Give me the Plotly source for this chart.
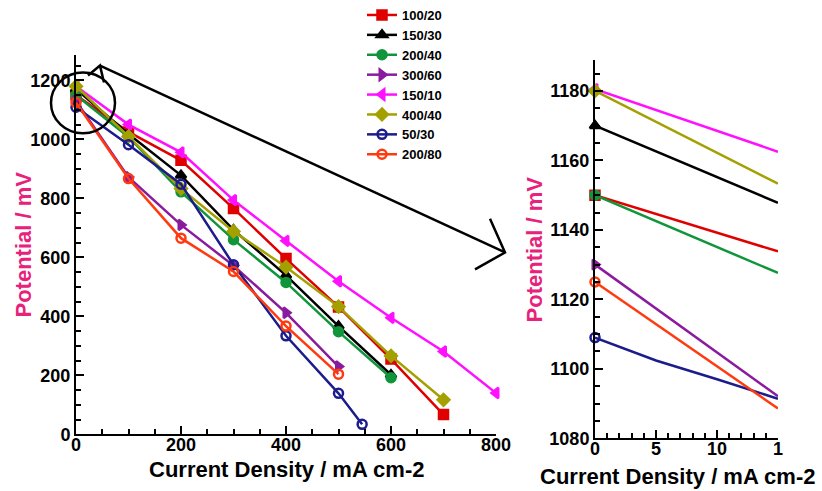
import plotly.graph_objects as go

W, H = 822, 491

# ---------------- data (main plot) ----------------
names = ["100/20", "150/30", "200/40", "300/60", "150/10", "400/40", "50/30", "200/80"]
colors = ["#e00000", "#000000", "#10953a", "#8a1a9e", "#ff10ff", "#a3a000", "#1c1c8c", "#ff3a10"]
symbols = ["square", "triangle-up", "circle", "triangle-right", "triangle-left", "diamond", "circle-open", "circle-open"]

x_100_20 = [0, 100, 200, 300, 400, 500, 600, 700]
y_100_20 = [1150, 1025, 929, 766, 596, 432, 255, 67]
x_150_30 = [0, 100, 200, 300, 400, 500, 600]
y_150_30 = [1170, 1018, 878, 693, 539, 367, 202]
x_200_40 = [0, 100, 200, 300, 400, 500, 600]
y_200_40 = [1150, 1008, 822, 660, 515, 348, 192]
x_300_60 = [0, 100, 200, 300, 400, 500]
y_300_60 = [1130, 872, 710, 572, 412, 230]
x_150_10 = [0, 100, 200, 300, 400, 500, 600, 700, 800]
y_150_10 = [1180, 1050, 956, 794, 656, 519, 395, 281, 140]
x_400_40 = [0, 100, 200, 300, 400, 500, 600, 700]
y_400_40 = [1180, 1010, 833, 688, 567, 433, 266, 117]
x_50_30 = [0, 100, 200, 300, 400, 500, 545]
y_50_30 = [1109, 982, 848, 575, 334, 139, 34]
x_200_80 = [0, 100, 200, 300, 400, 500]
y_200_80 = [1125, 867, 665, 552, 367, 204]

xs = [x_100_20, x_150_30, x_200_40, x_300_60, x_150_10, x_400_40, x_50_30, x_200_80]
ys = [y_100_20, y_150_30, y_200_40, y_300_60, y_150_10, y_400_40, y_50_30, y_200_80]

# ---------------- data (zoomed inset) ----------------
zx_100_20 = [0, 15]; zy_100_20 = [1150, 1133.8]
zx_150_30 = [0, 15]; zy_150_30 = [1170, 1147.8]
zx_200_40 = [0, 15]; zy_200_40 = [1150, 1127.6]
zx_300_60 = [0, 15]; zy_300_60 = [1130, 1092.1]
zx_150_10 = [0, 15]; zy_150_10 = [1180.5, 1162.5]
zx_400_40 = [0, 15]; zy_400_40 = [1180, 1153.3]
zx_50_30 = [0, 5, 10, 15]; zy_50_30 = [1109, 1102.4, 1097, 1091.4]
zx_200_80 = [0, 15]; zy_200_80 = [1125, 1088.6]

zxs = [zx_100_20, zx_150_30, zx_200_40, zx_300_60, zx_150_10, zx_400_40, zx_50_30, zx_200_80]
zys = [zy_100_20, zy_150_30, zy_200_40, zy_300_60, zy_150_10, zy_400_40, zy_50_30, zy_200_80]

inset_tickvals = [0, 5, 10, 15]
inset_ticktext = ["0", "5", "10", "1"]

x_title = "Current Density / mA cm-2"
y_title = "Potential / mV"

fig = go.Figure()
for n, c, s, x, y in zip(names, colors, symbols, xs, ys):
    fig.add_trace(go.Scatter(
        x=x, y=y, name=n, mode="lines+markers",
        line=dict(color=c, width=2.5),
        marker=dict(symbol=s, size=9, color=c, line=dict(color=c, width=2.5)),
        xaxis="x", yaxis="y", cliponaxis=False))
for n, c, s, x, y in zip(names, colors, symbols, zxs, zys):
    fig.add_trace(go.Scatter(
        x=x, y=y, name=n, mode="lines", showlegend=False,
        line=dict(color=c, width=2.5),
        xaxis="x2", yaxis="y2"))
    fig.add_trace(go.Scatter(
        x=[x[0]], y=[y[0]], mode="markers", showlegend=False,
        marker=dict(symbol=s, size=9, color=c, line=dict(color=c, width=2.5)),
        xaxis="x2", yaxis="y2", cliponaxis=False))

FONT = "Arial, Liberation Sans, sans-serif"
PINK = "#e8217a"
tickfont = dict(family=FONT, size=18, color="black", weight="bold")
titlefont = dict(family=FONT, size=22, color="black", weight="bold")
ytitlefont = dict(family=FONT, size=22, color=PINK, weight="bold")
common = dict(showgrid=False, zeroline=False, showline=True, linecolor="black", linewidth=2,
              ticks="inside", ticklen=8, tickwidth=1.5, tickcolor="black",
              tickfont=tickfont, mirror=False, automargin=False)

def px(x):
    return x / W

def py(y):
    return 1 - y / H

fig.update_layout(
    width=W, height=H,
    margin=dict(l=0, r=0, t=0, b=0),
    plot_bgcolor="white", paper_bgcolor="white",
    font=dict(family=FONT, color="black"),
    xaxis=dict(domain=[px(76), px(496)], range=[0, 800], dtick=200, anchor="y",
               minor=dict(dtick=50, ticks="inside", ticklen=5, tickcolor="black"),
               ticklabelstandoff=-7, **common),
    yaxis=dict(domain=[py(434), py(52)], range=[0, 1287], dtick=200, anchor="x",
               minor=dict(dtick=50, ticks="inside", ticklen=5, tickcolor="black"),
               **common),
    xaxis2=dict(domain=[px(595), px(778)], range=[0, 15], anchor="y2",
                tickmode="array", tickvals=inset_tickvals, ticktext=inset_ticktext,
                minor=dict(dtick=1, ticks="inside", ticklen=5, tickcolor="black"),
                ticklabelstandoff=-7, **common),
    yaxis2=dict(domain=[py(438), py(57)], range=[1080, 1189], dtick=20, anchor="x2",
                minor=dict(dtick=5, ticks="inside", ticklen=5, tickcolor="black"),
                **common),
    legend=dict(x=px(362), y=py(-3), xanchor="left", yanchor="top",
                font=dict(family=FONT, size=13, color="black", weight="bold"),
                bgcolor="rgba(0,0,0,0)", tracegroupgap=0, itemwidth=30),
    showlegend=True,
)

# axis titles
fig.add_annotation(text=x_title, xref="paper", yref="paper", x=px(286), y=py(469),
                   xanchor="center", yanchor="middle", showarrow=False, font=titlefont)
fig.add_annotation(text=x_title, xref="paper", yref="paper", x=px(677), y=py(476),
                   xanchor="center", yanchor="middle", showarrow=False, font=titlefont)
fig.add_annotation(text=y_title, xref="paper", yref="paper", x=px(24), y=py(243),
                   xanchor="center", yanchor="middle", showarrow=False, font=ytitlefont, textangle=-90)
fig.add_annotation(text=y_title, xref="paper", yref="paper", x=px(534), y=py(248),
                   xanchor="center", yanchor="middle", showarrow=False, font=ytitlefont, textangle=-90)

# hand-drawn circle and arrow annotation
fig.add_shape(type="circle", xref="paper", yref="paper",
              x0=px(51), x1=px(115), y0=py(131), y1=py(70),
              line=dict(color="black", width=2.5))
fig.add_shape(type="path", xref="paper", yref="paper",
              path="M %f,%f L %f,%f L %f,%f" % (px(88), py(73), px(100), py(63), px(104), py(80)),
              line=dict(color="black", width=2.5))
fig.add_shape(type="line", xref="paper", yref="paper",
              x0=px(100), y0=py(63), x1=px(505), y1=py(251),
              line=dict(color="black", width=2.5))
fig.add_shape(type="path", xref="paper", yref="paper",
              path="M %f,%f L %f,%f L %f,%f" % (px(490), py(217), px(505), py(251), px(475), py(268)),
              line=dict(color="black", width=2.5))

fig.write_html("out.html")
